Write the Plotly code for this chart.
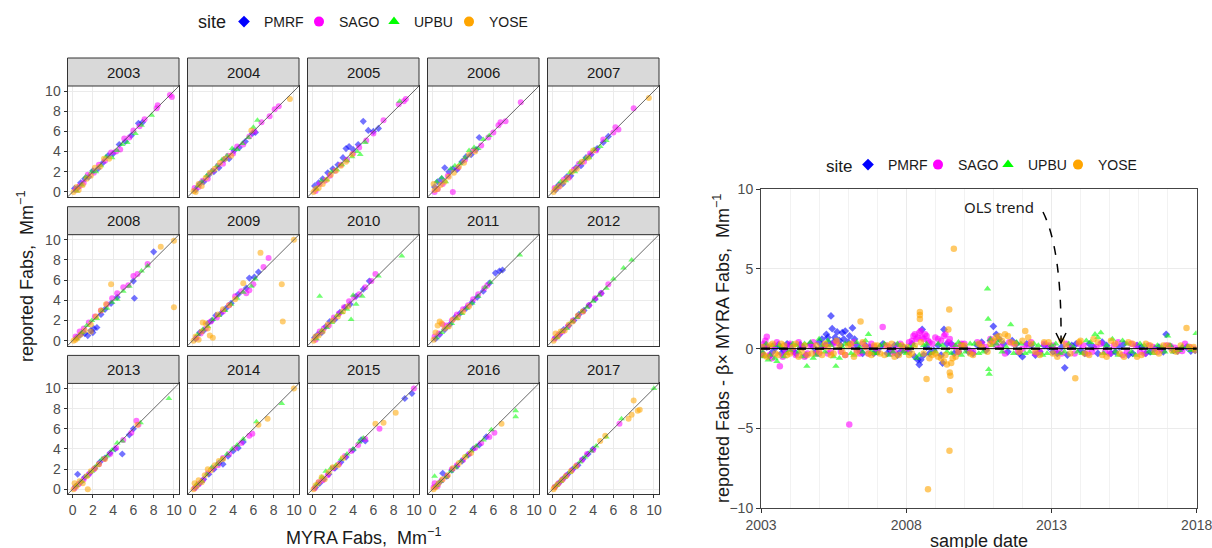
import datetime as dt
import plotly.graph_objects as go

# ---------------- data ----------------
YEARS = list(range(2003, 2018))
SITES = ["PMRF", "SAGO", "UPBU", "YOSE"]

# (MYRA Fabs, reported Fabs) per year, per site
PMRF_XY = {
    2003: [(0.2,0.35),(0.5,0.4),(0.8,0.9),(1.2,1.3),(1.6,1.5),(2.0,2.1),(2.5,2.3),(3.0,2.9),(3.5,3.6),(4.0,3.8),(4.6,4.7),(5.2,5.0),(5.8,5.6),(6.5,6.8),(6.9,6.9)],
    2004: [(0.3,0.2),(0.7,0.8),(1.1,1.0),(1.6,1.7),(2.1,2.0),(2.6,2.4),(3.1,3.2),(3.6,3.3),(4.1,4.1),(4.6,4.4),(5.2,5.0),(5.9,5.8),(6.2,5.9)],
    2005: [(0.2,0.6),(0.6,0.9),(1.0,1.3),(1.5,1.9),(2.0,2.3),(2.5,2.7),(3.0,3.4),(3.3,4.3),(3.6,4.5),(4.0,4.2),(4.5,4.7),(5.0,7.0),(5.5,6.1),(6.0,6.0),(6.5,6.3)],
    2006: [(0.2,0.5),(0.5,1.0),(0.9,1.3),(1.2,2.4),(1.6,2.0),(2.0,2.3),(2.4,2.2),(2.9,3.0),(3.3,3.5),(3.8,3.7),(4.3,4.2),(4.6,5.4)],
    2007: [(0.3,0.2),(0.6,0.7),(1.0,0.8),(1.4,1.5),(1.8,1.6),(2.3,2.4),(2.8,2.6),(3.3,3.4),(3.8,3.7),(4.4,4.3),(5.0,4.9),(5.5,5.5)],
    2008: [(0.4,0.3),(0.8,0.6),(1.2,0.7),(1.5,0.5),(1.8,1.0),(2.1,1.2),(2.4,1.3),(2.0,0.8),(2.8,2.6),(3.2,3.1),(3.8,3.7),(4.4,4.3),(6.1,4.2),(6.0,5.9),(8.0,8.8)],
    2009: [(0.3,0.2),(0.7,0.8),(1.1,1.0),(1.5,1.7),(1.9,2.0),(2.3,2.5),(2.8,2.7),(3.3,3.2),(3.8,3.7),(4.5,4.6),(5.3,5.2),(5.6,6.2),(6.1,6.3),(6.5,6.8)],
    2010: [(0.2,0.3),(0.5,0.6),(0.9,0.8),(1.3,1.4),(1.7,1.9),(2.2,2.1),(2.7,2.8),(3.2,3.3),(3.7,3.6),(4.3,4.4),(5.0,5.1),(5.6,5.9)],
    2011: [(0.3,0.2),(0.7,0.6),(1.2,1.1),(1.7,1.6),(2.2,2.3),(2.7,2.7),(3.3,3.2),(3.9,3.8),(4.4,4.3),(5.0,4.9),(6.2,6.7),(6.6,6.9),(6.9,7.0),(5.6,5.7)],
    2012: [(0.3,0.3),(0.7,0.6),(1.1,1.1),(1.6,1.5),(2.1,2.0),(2.6,2.6),(3.1,3.0),(3.6,3.5),(4.2,4.1),(4.8,4.7)],
    2013: [(0.3,0.3),(0.5,1.5),(0.8,0.7),(1.2,1.2),(1.7,1.6),(2.2,2.1),(2.7,2.7),(3.2,3.1),(3.7,3.6),(4.2,4.0),(4.9,3.5),(5.6,5.4),(6.0,6.0)],
    2014: [(0.3,0.2),(0.7,0.6),(1.1,1.0),(1.6,1.5),(2.1,2.0),(2.6,2.6),(3.0,2.5),(3.5,3.3),(4.0,3.8),(4.5,4.1),(5.0,4.7)],
    2015: [(0.3,0.2),(0.7,0.6),(1.1,1.0),(1.6,1.5),(2.2,2.1),(2.8,2.7),(3.3,3.2),(4.0,3.9),(4.8,4.9),(5.2,4.8),(9.1,9.0),(9.8,9.5)],
    2016: [(0.3,0.3),(0.7,0.7),(1.0,1.6),(1.4,1.3),(1.9,1.9),(2.4,2.3),(2.9,2.8),(3.5,3.4),(4.0,4.0),(4.6,4.4),(5.3,5.2)],
    2017: [(0.3,0.3),(0.7,0.7),(1.1,1.1),(1.5,1.5),(2.0,2.0),(2.5,2.4),(3.0,3.0),(3.5,3.5),(4.0,4.0)],
}
SAGO_XY = {
    2003: [(0.3,0.2),(0.7,0.6),(1.1,0.9),(1.5,1.7),(2.1,1.9),(2.6,2.7),(3.2,3.1),(3.8,3.9),(4.3,4.0),(4.7,4.2),(5.1,5.3),(5.6,5.4),(6.0,6.1),(6.6,6.5),(7.1,7.2),(8.3,8.3),(8.4,8.6),(9.8,9.4),(9.6,9.6)],
    2004: [(0.2,0.4),(0.6,0.5),(1.0,1.1),(1.5,1.3),(2.0,2.1),(2.5,2.6),(3.0,2.8),(3.5,3.6),(4.0,3.8),(4.4,4.5),(5.0,4.7),(5.6,5.5),(6.1,6.0),(6.8,6.9),(7.6,7.5),(8.1,8.2),(8.5,8.5)],
    2005: [(0.3,0.1),(0.7,0.8),(1.2,1.1),(1.7,1.6),(2.2,2.1),(2.8,2.7),(3.4,3.2),(4.0,3.8),(4.6,4.4),(5.3,5.1),(6.0,5.8),(7.0,7.1),(8.5,8.7),(9.0,9.0),(9.2,9.2)],
    2006: [(0.2,0.0),(0.5,0.3),(1.0,0.8),(2.0,0.0),(1.5,1.6),(2.5,2.4),(3.2,3.2),(4.0,4.1),(4.8,4.6),(5.5,5.4),(6.0,5.9),(6.5,6.6),(6.7,6.9),(7.2,7.0),(8.7,8.9)],
    2007: [(0.2,0.4),(0.6,0.5),(1.1,1.2),(1.6,1.4),(2.1,2.2),(2.6,2.8),(3.1,3.0),(3.7,3.8),(4.3,4.1),(5.0,5.2),(6.0,5.9),(6.5,6.2),(8.0,8.3),(6.2,6.4)],
    2008: [(0.3,0.4),(0.7,0.9),(1.1,1.2),(1.6,1.8),(2.2,2.4),(2.8,3.0),(3.4,3.6),(3.9,4.2),(4.4,4.7),(5.0,5.3),(5.5,5.5),(6.0,6.4),(6.4,6.6),(7.4,7.6)],
    2009: [(0.4,0.3),(0.8,0.7),(1.3,1.2),(1.8,1.9),(2.4,2.3),(3.0,2.9),(3.6,3.5),(4.2,4.4),(4.8,4.9),(5.3,4.7),(5.6,5.0),(6.0,5.6),(7.0,7.3),(7.5,8.2)],
    2010: [(0.3,0.1),(0.7,0.9),(1.1,1.2),(1.6,1.5),(2.1,2.3),(2.6,2.7),(3.1,3.3),(3.6,3.9),(4.1,4.3),(4.6,4.6),(5.2,5.3),(5.8,5.9),(6.2,6.6)],
    2011: [(0.2,0.4),(0.6,0.7),(1.0,1.6),(1.4,1.5),(1.9,2.0),(2.4,2.6),(3.0,3.1),(3.5,3.5),(4.0,4.1),(4.5,4.6),(5.1,5.2),(5.4,5.5)],
    2012: [(0.2,0.2),(0.6,0.6),(1.0,0.9),(1.5,1.4),(2.0,2.0),(2.5,2.4),(3.0,2.9),(3.6,3.5),(4.2,4.2),(4.8,4.7),(5.5,5.6)],
    2013: [(0.2,0.1),(0.6,0.5),(1.1,1.0),(1.6,1.5),(2.1,2.0),(2.6,2.5),(3.1,3.0),(3.7,3.5),(4.3,4.1),(5.0,4.9),(5.8,5.6),(6.3,6.8),(6.5,6.4)],
    2014: [(0.2,0.1),(0.6,0.5),(1.0,0.9),(1.5,1.6),(2.0,2.1),(2.5,2.4),(3.0,3.1),(3.6,3.5),(4.2,4.1),(4.8,4.6),(5.6,5.3),(5.9,5.5)],
    2015: [(0.2,0.1),(0.6,0.7),(1.0,0.9),(1.5,1.4),(2.0,2.1),(2.6,2.5),(3.2,3.3),(3.8,3.8),(4.5,4.4),(5.2,5.0),(6.6,6.0),(10.0,10.0)],
    2016: [(0.1,0.2),(0.2,0.6),(0.5,0.3),(0.9,0.9),(1.4,1.3),(1.9,2.0),(2.4,2.4),(3.0,2.9),(3.6,3.5),(4.2,4.1),(4.8,4.6),(5.6,5.2),(6.1,5.6)],
    2017: [(0.2,0.2),(0.6,0.6),(1.0,1.0),(1.4,1.4),(1.9,1.9),(2.4,2.4),(2.9,2.9),(3.4,3.5),(4.0,3.9),(6.6,6.5)],
}
UPBU_XY = {
    2003: [(0.4,0.1),(0.9,0.7),(1.3,1.5),(1.9,2.0),(2.3,2.0),(2.8,2.6),(3.3,3.5),(3.9,3.4),(4.4,4.1),(4.9,4.7),(5.4,4.9),(6.2,5.8),(6.8,6.6),(7.8,7.6)],
    2004: [(0.5,0.6),(0.9,1.0),(1.4,1.6),(1.9,2.1),(2.4,2.6),(2.9,3.2),(3.4,3.6),(3.9,4.3),(4.4,4.2),(4.9,4.8),(5.5,5.4),(6.4,7.1),(6.0,6.4)],
    2005: [(0.4,0.3),(0.9,1.1),(1.4,1.2),(1.9,2.0),(2.4,2.2),(2.9,2.7),(3.4,3.1),(3.9,3.5),(4.4,4.0),(4.7,3.7),(5.2,4.9),(8.6,9.0)],
    2006: [(0.4,1.0),(0.9,1.4),(1.3,1.0),(1.8,2.3),(2.2,2.6),(2.7,2.8),(3.2,3.4),(3.6,4.1),(4.1,4.4),(4.5,4.3),(5.0,5.2),(5.6,5.6)],
    2007: [(0.4,0.5),(0.8,1.0),(1.3,1.1),(1.7,1.9),(2.2,2.0),(2.7,2.9),(3.2,3.3),(3.6,3.4),(4.1,4.2),(4.7,4.5),(5.3,5.1)],
    2008: [(0.4,0.2),(0.9,0.8),(1.4,1.5),(1.9,2.0),(2.4,2.2),(2.9,3.0),(3.4,3.2),(3.9,3.8),(4.4,4.1),(5.0,4.9),(5.6,5.4),(6.8,6.9),(7.4,7.4)],
    2009: [(0.5,0.6),(1.0,1.1),(1.5,1.4),(2.0,2.1),(2.6,2.5),(3.2,3.0),(3.8,3.6),(4.4,4.2),(5.0,4.8),(5.8,5.4),(6.2,6.1)],
    2010: [(0.4,0.2),(0.7,4.4),(0.9,1.0),(1.4,1.3),(1.9,1.8),(2.4,2.5),(2.9,2.8),(3.4,3.1),(3.8,2.1),(4.0,4.5),(4.3,3.6),(4.9,4.4),(6.5,6.4),(8.8,8.4)],
    2011: [(0.4,0.3),(0.9,0.8),(1.4,1.3),(1.9,1.7),(2.4,2.2),(2.9,2.7),(3.4,3.2),(3.9,3.7),(4.5,4.4),(5.2,5.3),(5.7,5.8),(8.6,8.5)],
    2012: [(0.4,0.3),(0.9,0.9),(1.4,1.2),(1.9,1.9),(2.4,2.3),(2.9,2.9),(3.4,3.3),(4.0,3.9),(4.6,4.5),(5.3,5.2),(6.0,6.1),(7.0,7.2),(7.8,8.0)],
    2013: [(0.4,0.4),(0.9,0.8),(1.4,1.3),(1.9,1.8),(2.4,2.4),(2.9,3.0),(3.4,3.3),(3.9,3.9),(4.4,4.6),(4.9,4.8),(6.7,6.6),(9.5,9.0)],
    2014: [(0.4,0.5),(0.9,0.8),(1.4,1.5),(1.9,2.2),(2.4,2.5),(2.9,3.0),(3.4,3.5),(3.9,4.0),(4.4,4.4),(5.0,5.0),(6.3,6.7),(8.8,8.5)],
    2015: [(0.4,0.5),(0.9,1.2),(1.3,1.8),(1.8,2.1),(2.3,2.4),(2.8,3.0),(3.4,3.5),(4.0,4.0),(4.6,4.7),(5.0,5.1)],
    2016: [(0.2,1.3),(0.4,0.4),(0.8,0.8),(1.3,1.2),(1.8,1.8),(2.3,2.2),(2.8,2.8),(3.3,3.3),(3.8,3.8),(4.3,4.3),(5.0,4.9),(5.8,5.9),(8.2,7.8),(8.2,7.2)],
    2017: [(0.4,0.4),(0.8,0.8),(1.2,1.2),(1.7,1.7),(2.2,2.2),(2.7,2.7),(3.2,3.2),(3.8,3.8),(4.3,4.3),(5.3,5.2),(6.8,7.0),(10.0,10.0)],
}
YOSE_XY = {
    2003: [(0.1,0.0),(0.4,0.5),(0.6,0.2),(1.0,0.7),(1.4,1.3),(1.8,1.6),(2.2,2.4),(2.7,2.5),(3.1,3.3),(3.6,3.3)],
    2004: [(0.1,0.1),(0.3,0.0),(0.6,0.8),(0.9,0.6),(1.3,1.4),(1.7,1.9),(2.2,2.3),(2.7,2.9),(3.2,3.3),(3.8,3.6),(5.8,6.1),(9.6,9.2)],
    2005: [(0.1,0.0),(0.3,0.3),(0.6,0.4),(1.0,0.8),(1.4,1.2),(1.8,1.7),(2.3,2.1),(2.8,2.6),(3.3,3.0),(3.9,3.7)],
    2006: [(0.1,0.8),(0.2,0.2),(0.5,0.3),(0.8,0.7),(1.2,1.0),(1.6,1.5),(2.1,1.9),(2.6,2.5),(3.1,2.9),(3.6,3.7),(4.2,4.0)],
    2007: [(0.1,0.0),(0.3,0.3),(0.7,0.6),(1.1,1.0),(1.5,1.4),(1.9,2.0),(2.4,2.3),(2.9,3.0),(3.5,3.4),(4.0,4.1),(9.5,9.3)],
    2008: [(0.1,0.0),(0.3,0.1),(0.5,0.3),(0.8,0.6),(1.2,1.0),(1.8,0.9),(1.8,1.6),(2.3,2.4),(2.8,3.0),(3.3,3.6),(3.8,5.6),(8.7,9.3),(10.0,9.9),(10.0,3.3)],
    2009: [(0.1,0.0),(0.3,0.4),(0.6,0.1),(0.9,0.9),(1.0,1.8),(1.3,1.7),(1.5,1.2),(1.7,0.5),(2.0,0.3),(2.5,2.6),(3.0,3.1),(3.6,3.5),(4.2,4.1),(5.0,5.7),(6.7,8.7),(8.8,5.6),(8.9,1.9),(10.0,10.0)],
    2010: [(0.1,0.0),(0.3,0.4),(0.6,0.5),(1.0,0.9),(1.5,1.6),(2.0,2.0),(2.5,2.4),(3.0,2.9),(3.5,3.4)],
    2011: [(0.1,0.1),(0.3,0.8),(0.5,1.5),(0.7,1.9),(0.9,1.7),(1.2,1.2),(1.6,1.4),(2.0,2.1),(2.5,2.3),(3.0,2.9),(3.6,3.4)],
    2012: [(0.1,0.0),(0.3,0.7),(0.5,0.4),(0.8,0.9),(1.2,1.0),(1.6,1.6),(2.0,1.9),(2.5,2.5),(3.0,2.9)],
    2013: [(0.1,0.0),(0.2,0.6),(0.4,0.3),(0.7,0.8),(1.0,0.6),(1.4,1.3),(1.5,0.0),(1.8,1.8),(2.2,2.1),(2.6,2.5),(3.2,3.0),(6.4,6.4)],
    2014: [(0.1,0.0),(0.2,0.6),(0.4,0.3),(0.6,0.9),(0.9,0.7),(1.2,1.4),(1.5,2.0),(1.8,1.9),(2.2,2.4),(2.6,2.8),(3.0,3.0),(6.5,6.4),(7.4,7.0),(10.0,10.0)],
    2015: [(0.1,0.0),(0.3,0.4),(0.6,0.7),(0.9,1.2),(1.2,1.0),(1.6,1.7),(2.0,2.2),(2.5,2.4),(3.0,3.1),(6.2,6.5),(7.0,6.6),(8.2,7.6)],
    2016: [(0.1,0.0),(0.3,0.2),(0.6,0.6),(1.0,1.0),(1.5,1.4),(2.0,2.1),(2.6,2.6),(3.2,3.2),(3.8,3.6),(6.8,6.5)],
    2017: [(0.1,0.0),(0.2,0.2),(0.5,0.5),(0.9,0.9),(1.3,1.3),(1.8,1.8),(2.3,2.3),(4.7,4.8),(5.2,5.3),(7.5,7.0),(7.8,7.4),(8.0,8.8),(8.4,7.8),(8.6,7.9)],
}

# (sample date as decimal year, residual reported - beta*MYRA)
PMRF_RESID = [(2003.05,-0.35),(2003.2,0.1),(2003.4,-0.2),(2003.6,0.25),(2003.8,-0.1),(2004.0,0.2),(2004.2,-0.3),(2004.45,0.1),(2004.7,0.3),(2004.9,-0.2),(2005.1,0.6),(2005.25,0.9),(2005.35,0.35),(2005.41,2.05),(2005.45,1.25),(2005.55,0.7),(2005.7,0.5),(2005.8,1.0),(2005.9,1.1),(2006.05,0.8),(2006.15,1.3),(2006.3,0.2),(2006.5,-0.3),(2006.75,0.1),(2007.0,-0.2),(2007.2,0.3),(2007.45,-0.1),(2007.7,-0.4),(2007.9,0.1),(2008.1,-0.2),(2008.3,-0.5),(2008.45,-1.0),(2008.5,-0.7),(2008.55,1.2),(2008.8,-0.3),(2009.1,0.2),(2009.25,-0.9),(2009.3,1.2),(2009.55,0.3),(2009.8,-0.2),(2010.0,0.1),(2010.3,-0.3),(2010.6,0.4),(2010.9,0.5),(2011.0,1.4),(2011.2,0.6),(2011.5,-0.2),(2011.8,0.3),(2012.0,-0.5),(2012.3,0.2),(2012.6,-0.2),(2012.9,0.1),(2013.2,-0.3),(2013.46,-1.2),(2013.7,0.2),(2014.0,-0.1),(2014.3,0.3),(2014.6,-0.3),(2014.9,0.2),(2015.2,-0.2),(2015.5,0.3),(2015.8,-0.3),(2016.1,0.1),(2016.4,-0.2),(2016.7,0.1),(2016.95,0.9),(2017.2,-0.1),(2017.5,0.05),(2017.8,-0.15),
              (2003.12,0.15),(2003.3,-0.45),(2003.5,0.05),(2003.7,-0.3),(2003.9,0.3),(2004.1,-0.1),(2004.35,0.25),(2004.55,-0.4),(2004.8,0.1),(2005.0,0.4),(2005.2,0.2),(2005.3,0.7),(2005.5,0.4),(2005.62,1.05),(2005.75,0.2),(2005.85,0.6),(2006.0,0.4),(2006.22,0.6),(2006.4,-0.1),(2006.6,0.2),(2006.88,-0.3),(2007.1,0.1),(2007.35,-0.3),(2007.6,0.2),(2007.8,-0.2),(2008.0,0.0),(2008.2,0.3),(2008.4,-0.7),(2008.6,-0.4),(2008.7,0.1),(2008.95,-0.1),(2009.2,-0.4),(2009.4,0.3),(2009.65,-0.3),(2009.9,0.2),(2010.15,-0.2),(2010.45,0.2),(2010.75,-0.1),(2011.1,0.9),(2011.35,0.3),(2011.65,0.5),(2011.9,-0.3),(2012.15,0.3),(2012.45,-0.4),(2012.75,0.2),(2013.05,-0.2),(2013.35,0.1),(2013.55,-0.4),(2013.85,0.3),(2014.15,-0.3),(2014.45,0.1),(2014.75,0.4),(2015.05,-0.3),(2015.35,0.1),(2015.65,-0.4),(2015.95,0.2),(2016.25,-0.3),(2016.55,0.0),(2016.85,-0.2),(2017.05,0.15),(2017.35,-0.15),(2017.65,0.1),(2017.95,-0.1)]
SAGO_RESID = [(2003.1,0.3),(2003.2,0.75),(2003.3,-0.4),(2003.45,0.2),(2003.65,-1.1),(2003.75,-0.5),(2003.9,0.1),(2004.1,-0.2),(2004.3,0.4),(2004.5,-0.5),(2004.7,0.2),(2004.9,-0.3),(2005.1,0.1),(2005.3,-0.3),(2005.5,0.3),(2005.75,-0.2),(2006.04,-4.75),(2006.1,0.2),(2006.3,-0.1),(2006.5,0.3),(2006.7,-0.3),(2006.9,0.1),(2007.19,1.35),(2007.3,0.2),(2007.5,-0.3),(2007.7,0.2),(2007.9,-0.1),(2008.1,0.4),(2008.25,0.8),(2008.35,0.6),(2008.45,1.0),(2008.55,0.7),(2008.65,0.9),(2008.75,0.5),(2008.9,0.3),(2009.1,0.6),(2009.3,0.8),(2009.45,0.4),(2009.6,0.2),(2009.8,-0.2),(2010.0,0.3),(2010.3,-0.2),(2010.6,0.3),(2010.9,0.6),(2011.1,0.2),(2011.4,-0.3),(2011.7,0.3),(2012.0,0.0),(2012.3,0.4),(2012.6,-0.2),(2012.9,0.2),(2013.2,-0.1),(2013.5,0.3),(2013.8,-0.3),(2014.1,0.2),(2014.4,-0.2),(2014.7,0.3),(2015.0,-0.3),(2015.3,0.4),(2015.6,-0.2),(2015.9,0.2),(2016.2,-0.3),(2016.5,0.1),(2016.8,-0.1),(2017.1,0.15),(2017.35,-0.1),(2017.6,0.3),(2017.9,0.0),
              (2003.05,-0.3),(2003.15,0.5),(2003.25,0.1),(2003.38,-0.6),(2003.55,0.4),(2003.85,-0.2),(2004.0,0.3),(2004.2,-0.4),(2004.4,0.1),(2004.6,-0.3),(2004.8,0.4),(2005.0,-0.3),(2005.2,0.2),(2005.4,-0.2),(2005.6,0.4),(2005.9,-0.4),(2006.2,0.4),(2006.4,-0.3),(2006.6,0.1),(2006.8,0.3),(2007.0,-0.2),(2007.4,0.1),(2007.6,-0.2),(2007.8,0.3),(2008.0,-0.1),(2008.2,0.5),(2008.3,0.9),(2008.4,0.7),(2008.5,1.1),(2008.6,0.6),(2008.7,0.8),(2008.8,0.4),(2009.0,0.7),(2009.2,0.5),(2009.35,0.9),(2009.5,0.6),(2009.7,0.1),(2009.9,0.3),(2010.15,-0.1),(2010.45,0.4),(2010.75,0.1),(2011.0,0.4),(2011.25,0.1),(2011.55,0.4),(2011.85,-0.2),(2012.15,0.2),(2012.45,-0.3),(2012.75,0.3),(2013.05,0.2),(2013.35,-0.3),(2013.65,0.1),(2013.95,0.3),(2014.25,-0.3),(2014.55,0.1),(2014.85,-0.2),(2015.15,0.2),(2015.45,-0.4),(2015.75,0.3),(2016.05,-0.2),(2016.35,0.2),(2016.65,-0.2),(2016.95,0.2),(2017.25,0.05),(2017.5,-0.15),(2017.75,0.1)]
UPBU_RESID = [(2003.1,-0.5),(2003.25,-0.7),(2003.4,0.2),(2003.55,-0.8),(2003.7,0.1),(2003.9,-0.3),(2004.1,0.3),(2004.3,-0.2),(2004.58,-1.1),(2004.7,0.4),(2004.9,-0.4),(2005.1,0.2),(2005.3,0.5),(2005.58,-1.1),(2005.7,-0.6),(2005.9,0.3),(2006.1,-0.3),(2006.3,0.4),(2006.5,-0.2),(2006.7,0.9),(2006.9,-0.3),(2007.1,0.2),(2007.4,-0.4),(2007.7,0.3),(2007.9,-0.2),(2008.1,0.1),(2008.35,-0.6),(2008.6,0.2),(2008.85,-0.3),(2009.1,0.3),(2009.4,-0.2),(2009.7,0.2),(2009.9,-0.4),(2010.2,0.3),(2010.5,-0.3),(2010.8,3.75),(2010.82,1.85),(2010.84,-1.3),(2010.86,-1.6),(2010.9,0.6),(2011.1,0.3),(2011.3,-0.2),(2011.6,1.5),(2011.8,0.4),(2012.1,-0.3),(2012.4,0.3),(2012.7,-0.4),(2013.0,0.2),(2013.3,-0.3),(2013.6,0.3),(2013.9,-0.2),(2014.2,0.5),(2014.5,0.9),(2014.7,1.0),(2014.8,-0.3),(2015.1,0.6),(2015.3,-0.4),(2015.6,0.3),(2015.9,-0.4),(2016.2,0.2),(2016.5,-0.3),(2016.8,0.1),(2017.0,0.8),(2017.2,-0.2),(2017.5,0.1),(2017.8,-0.1),(2017.98,0.95),
              (2003.05,-0.2),(2003.18,0.3),(2003.32,-0.4),(2003.48,-0.6),(2003.62,0.2),(2003.8,-0.5),(2004.0,-0.1),(2004.2,0.2),(2004.4,-0.5),(2004.5,0.3),(2004.8,-0.6),(2005.0,0.6),(2005.2,-0.2),(2005.4,0.2),(2005.5,-0.5),(2005.8,0.1),(2006.0,0.3),(2006.2,-0.4),(2006.4,0.1),(2006.6,0.5),(2006.8,-0.2),(2007.0,-0.3),(2007.25,0.3),(2007.55,-0.2),(2007.8,0.2),(2008.0,-0.3),(2008.25,0.2),(2008.45,-0.4),(2008.7,0.3),(2009.0,-0.2),(2009.25,0.2),(2009.55,-0.3),(2009.8,0.4),(2010.05,-0.2),(2010.35,0.3),(2010.65,-0.2),(2010.95,0.2),(2011.2,0.5),(2011.45,0.1),(2011.7,-0.3),(2011.95,0.3),(2012.25,-0.2),(2012.55,0.2),(2012.85,-0.3),(2013.15,0.3),(2013.45,-0.2),(2013.75,0.1),(2014.05,-0.3),(2014.35,0.4),(2014.6,0.7),(2014.9,0.2),(2015.2,-0.2),(2015.45,0.5),(2015.75,-0.2),(2016.05,0.3),(2016.35,-0.2),(2016.65,0.2),(2016.9,-0.2),(2017.1,0.2),(2017.4,-0.1),(2017.7,0.15),(2017.9,-0.05)]
YOSE_RESID = [(2003.1,-0.4),(2003.3,0.2),(2003.5,-0.3),(2003.7,0.3),(2003.9,-0.4),(2004.1,0.1),(2004.3,-0.5),(2004.5,0.2),(2004.75,-0.3),(2005.0,-0.2),(2005.2,0.3),(2005.4,-0.4),(2005.6,0.5),(2005.8,-0.2),(2006.0,0.2),(2006.2,-0.5),(2006.43,1.7),(2006.6,0.1),(2006.8,-0.4),(2007.0,0.2),(2007.25,-0.4),(2007.5,0.3),(2007.75,-0.4),(2008.0,0.1),(2008.2,-0.3),(2008.47,2.3),(2008.47,2.1),(2008.47,1.85),(2008.5,0.4),(2008.7,-1.9),(2008.75,-8.8),(2008.9,-0.4),(2009.1,-0.5),(2009.3,-0.8),(2009.4,-1.0),(2009.45,1.2),(2009.48,2.45),(2009.5,-1.5),(2009.52,-1.7),(2009.5,-2.6),(2009.49,-6.4),(2009.64,6.25),(2009.7,-0.5),(2009.9,0.2),(2010.2,-0.3),(2010.5,0.3),(2010.8,-0.2),(2011.0,0.5),(2011.2,0.8),(2011.4,0.9),(2011.6,0.4),(2011.9,-0.2),(2012.1,1.1),(2012.3,0.3),(2012.6,-0.4),(2012.9,0.4),(2013.2,-0.5),(2013.5,0.2),(2013.82,-1.85),(2014.0,0.5),(2014.3,-0.4),(2014.6,0.4),(2014.9,-0.5),(2015.2,0.3),(2015.5,-0.5),(2015.8,0.3),(2016.1,-0.4),(2016.4,0.2),(2016.7,-0.3),(2017.0,0.2),(2017.3,-0.2),(2017.65,1.3),(2017.9,0.1),
              (2003.05,0.1),(2003.2,-0.5),(2003.4,0.3),(2003.6,-0.4),(2003.8,0.2),(2004.0,-0.3),(2004.2,0.3),(2004.4,-0.2),(2004.6,-0.4),(2004.9,0.2),(2005.1,-0.4),(2005.3,0.1),(2005.5,-0.3),(2005.7,0.2),(2005.9,-0.4),(2006.1,0.3),(2006.3,-0.2),(2006.5,0.4),(2006.7,-0.3),(2006.9,0.2),(2007.1,-0.3),(2007.35,0.2),(2007.6,-0.5),(2007.85,0.2),(2008.1,-0.4),(2008.3,0.2),(2008.6,-0.3),(2008.8,-0.6),(2009.0,-0.3),(2009.2,-0.6),(2009.35,-0.4),(2009.55,-0.9),(2009.6,-0.6),(2009.8,-0.2),(2010.0,0.2),(2010.3,-0.4),(2010.6,0.1),(2010.9,0.3),(2011.1,0.7),(2011.3,0.5),(2011.5,0.8),(2011.75,0.3),(2012.0,0.5),(2012.2,0.7),(2012.45,-0.2),(2012.75,0.4),(2013.05,-0.3),(2013.35,0.5),(2013.65,-0.3),(2013.95,0.4),(2014.15,-0.3),(2014.45,0.6),(2014.75,-0.4),(2015.05,0.5),(2015.35,-0.3),(2015.65,0.4),(2015.95,-0.5),(2016.25,0.3),(2016.55,-0.2),(2016.85,0.2),(2017.15,-0.1),(2017.45,0.2),(2017.75,0.1),(2017.95,-0.1)]

DATE_TICKS = ["2003-01-01", "2008-01-01", "2013-01-01", "2018-01-01"]
DATE_TICK_TEXT = ["2003", "2008", "2013", "2018"]

XY_BY_SITE = {"PMRF": PMRF_XY, "SAGO": SAGO_XY, "UPBU": UPBU_XY, "YOSE": YOSE_XY}
RESID_BY_SITE = {"PMRF": PMRF_RESID, "SAGO": SAGO_RESID, "UPBU": UPBU_RESID, "YOSE": YOSE_RESID}

# ---------------- style ----------------
COLORS = {"PMRF": "#0000FF", "SAGO": "#FF00FF", "UPBU": "#00FF00", "YOSE": "#FFA500"}
SYMBOLS = {"PMRF": "diamond", "SAGO": "circle", "UPBU": "triangle-up", "YOSE": "circle"}
PT_SIZE = {"PMRF": 5.5, "SAGO": 6, "UPBU": 6, "YOSE": 6}
FONT = "Liberation Sans, Arial, sans-serif"
W, H = 1212, 548


def px(x):
    return x / W


def py(y):
    return 1 - y / H


def dec_to_date(t):
    y = int(t)
    start = dt.datetime(y, 1, 1)
    end = dt.datetime(y + 1, 1, 1)
    return (start + (end - start) * (t - y)).strftime("%Y-%m-%d")


fig = go.Figure()
shapes, annotations = [], []
layout = {}

L0, STEPX, PW = 67.5, 120.0, 111.5
T0, STEPY, PH, STRIP = 86.0, 148.7, 111.0, 28.0

axis_common = dict(
    range=[-0.5, 10.5], dtick=2, tick0=0, showgrid=True, gridcolor="#EBEBEB", gridwidth=1,
    zeroline=False, showline=True, mirror=True, linecolor="#333333", linewidth=1,
    tickfont=dict(family=FONT, size=14, color="#4D4D4D"), tickcolor="#333333", ticklen=3,
    automargin=False,
)

for i, year in enumerate(YEARS):
    r, c = divmod(i, 5)
    k = i + 1
    xa, ya = f"x{k}", f"y{k}"
    left = L0 + STEPX * c
    top = T0 + STEPY * r
    layout[f"xaxis{k}"] = dict(
        axis_common, anchor=ya, domain=[px(left), px(left + PW)],
        showticklabels=(r == 2), ticks=("outside" if r == 2 else ""),
    )
    layout[f"yaxis{k}"] = dict(
        axis_common, anchor=xa, domain=[py(top + PH), py(top)],
        showticklabels=(c == 0), ticks=("outside" if c == 0 else ""),
    )
    for s in SITES:
        pts = XY_BY_SITE[s][year]
        fig.add_trace(go.Scatter(
            x=[p[0] for p in pts], y=[p[1] for p in pts], mode="markers",
            xaxis=xa, yaxis=ya, showlegend=False, hoverinfo="skip",
            marker=dict(color=COLORS[s], symbol=SYMBOLS[s], size=PT_SIZE[s], opacity=0.55, line=dict(width=0)),
        ))
    shapes.append(dict(type="line", xref=xa, yref=ya, x0=-0.5, y0=-0.5, x1=10.5, y1=10.5,
                       line=dict(color="#555555", width=0.9)))
    shapes.append(dict(type="rect", xref="paper", yref="paper",
                       x0=px(left), x1=px(left + PW), y0=py(top), y1=py(top - STRIP),
                       fillcolor="#D9D9D9", line=dict(color="#333333", width=1)))
    annotations.append(dict(text=str(year), xref="paper", yref="paper", showarrow=False,
                            xanchor="center", yanchor="middle",
                            x=px(left + PW / 2), y=py(top - STRIP / 2),
                            font=dict(family=FONT, size=15, color="#1A1A1A")))

# ---------- right panel ----------
RX0, RX1, RY0, RY1 = 761.0, 1196.7, 189.0, 508.3
layout["xaxis16"] = dict(
    type="date", anchor="y16", domain=[px(RX0), px(RX1)],
    range=["2003-01-01", "2018-01-01"], tickmode="array", tickvals=DATE_TICKS, ticktext=DATE_TICK_TEXT,
    ticklabeloverflow="allow",
    showgrid=True, gridcolor="#EBEBEB", gridwidth=1,
    minor=dict(dtick="M12", tick0="2003-01-01", showgrid=True, gridcolor="#F2F2F2", gridwidth=0.8),
    zeroline=False, showline=True, mirror=True, linecolor="#444444", linewidth=1,
    ticks="outside", ticklen=4, tickcolor="#333333", automargin=False,
    tickfont=dict(family=FONT, size=14, color="#4D4D4D"),
)
layout["yaxis16"] = dict(
    anchor="x16", domain=[py(RY1), py(RY0)], range=[-10, 10], dtick=5, tick0=0,
    showgrid=True, gridcolor="#EBEBEB", gridwidth=1, zeroline=False,
    showline=True, mirror=True, linecolor="#444444", linewidth=1,
    ticks="outside", ticklen=4, tickcolor="#333333", automargin=False,
    tickfont=dict(family=FONT, size=14, color="#4D4D4D"),
)
for s in SITES:
    pts = RESID_BY_SITE[s]
    fig.add_trace(go.Scatter(
        x=[dec_to_date(p[0]) for p in pts], y=[p[1] for p in pts], mode="markers",
        xaxis="x16", yaxis="y16", showlegend=False, hoverinfo="skip",
        marker=dict(color=COLORS[s], symbol=SYMBOLS[s], size=PT_SIZE[s] + 0.5, opacity=0.6, line=dict(width=0)),
    ))
shapes.append(dict(type="line", xref="x16 domain", yref="y16", x0=0, x1=1, y0=0, y1=0,
                   line=dict(color="#000000", width=1)))
shapes.append(dict(type="line", xref="x16 domain", yref="y16", x0=0, x1=1, y0=0, y1=0,
                   line=dict(color="#000000", width=2.2, dash="dash")))
# curved dashed arrow for "OLS trend"
shapes.append(dict(type="path", xref="paper", yref="paper",
                   path=f"M {px(1043)},{py(212)} Q {px(1062)},{py(250)} {px(1061)},{py(342)}",
                   line=dict(color="#000000", width=1.5, dash="dash")))
shapes.append(dict(type="path", xref="paper", yref="paper",
                   path=f"M {px(1056)},{py(333)} L {px(1061)},{py(343)} L {px(1066)},{py(333)}",
                   line=dict(color="#000000", width=1.5)))
annotations.append(dict(text="OLS trend", xref="paper", yref="paper", showarrow=False,
                        xanchor="center", yanchor="middle",
                        x=px(999), y=py(207), font=dict(family="Noto Sans, Open Sans, sans-serif", size=15, color="#1A1A1A")))

# ---------- titles ----------
annotations += [
    dict(text="MYRA Fabs,\u00a0 Mm<sup>\u22121</sup>", xref="paper", yref="paper", showarrow=False,
         xanchor="center", yanchor="middle",
         x=px(363), y=py(536), font=dict(family=FONT, size=18, color="#1A1A1A")),
    dict(text="reported Fabs,\u00a0 Mm<sup>\u22121</sup>", xref="paper", yref="paper", showarrow=False,
         xanchor="center", yanchor="middle",
         x=px(25), y=py(277), textangle=-90, font=dict(family=FONT, size=18, color="#1A1A1A")),
    dict(text="reported Fabs - \u03b2\u00d7 MYRA Fabs,\u00a0 Mm<sup>\u22121</sup>", xref="paper", yref="paper",
         xanchor="center", yanchor="middle",
         showarrow=False, x=px(721), y=py(349), textangle=-90, font=dict(family=FONT, size=18, color="#1A1A1A")),
    dict(text="sample date", xref="paper", yref="paper", showarrow=False,
         xanchor="center", yanchor="middle",
         x=px(979), y=py(541), font=dict(family=FONT, size=18, color="#1A1A1A")),
    # legend titles
    dict(text="site", xref="paper", yref="paper", showarrow=False, xanchor="center", yanchor="middle",
         x=px(211.5), y=py(22), font=dict(family=FONT, size=18, color="#1A1A1A")),
    dict(text="site", xref="paper", yref="paper", showarrow=False, xanchor="center", yanchor="middle",
         x=px(839), y=py(166), font=dict(family=FONT, size=17, color="#1A1A1A")),
]

# ---------- legends (key entries) ----------
for lg, xa, ya in (("legend", "x", "y"), ("legend2", "x16", "y16")):
    for s in SITES:
        fig.add_trace(go.Scatter(
            x=[None], y=[None], mode="markers", name=s, legend=lg, xaxis=xa, yaxis=ya,
            marker=dict(color=COLORS[s], symbol=SYMBOLS[s], size=10 if s != "PMRF" else 9),
        ))
    # empty spacer entry so the last label is not clipped
    fig.add_trace(go.Scatter(
        x=[None], y=[None], mode="markers", name="\u00a0", legend=lg, xaxis=xa, yaxis=ya,
        marker=dict(color="rgba(0,0,0,0)", size=1),
    ))

legend_common = dict(
    orientation="h", xanchor="left", yanchor="middle", bgcolor="rgba(0,0,0,0)",
    font=dict(family=FONT, size=14, color="#1A1A1A"), entrywidthmode="pixels",
)
layout["legend"] = dict(legend_common, x=px(224), y=py(22), entrywidth=30)
layout["legend2"] = dict(legend_common, x=px(848), y=py(165), entrywidth=25)

fig.update_layout(
    **layout,
    shapes=shapes, annotations=annotations,
    width=W, height=H, autosize=False,
    margin=dict(l=0, r=0, t=0, b=0, autoexpand=False),
    paper_bgcolor="white", plot_bgcolor="white",
    font=dict(family=FONT),
)
fig.write_html("out.html")
